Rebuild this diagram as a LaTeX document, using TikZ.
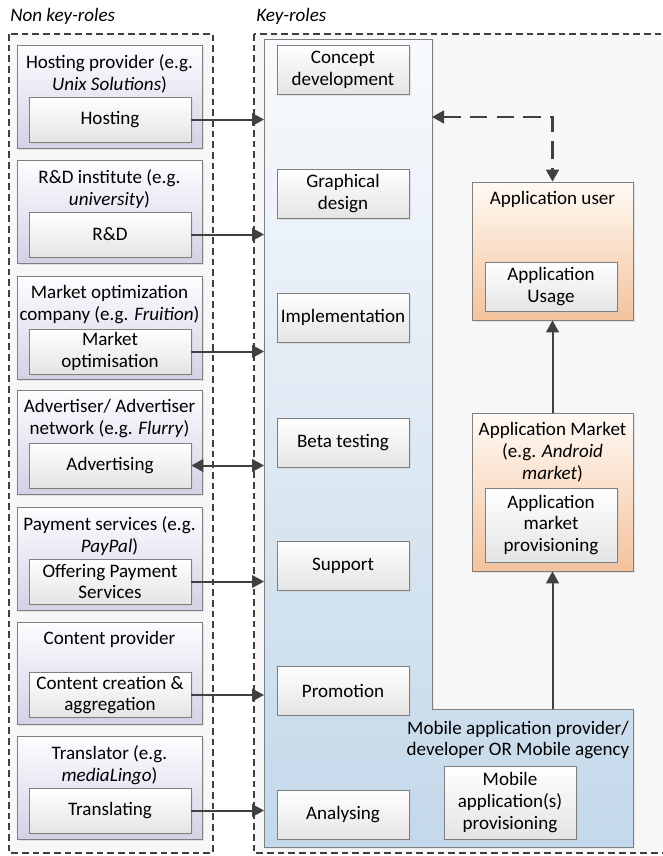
\documentclass[tikz,border=0pt]{standalone}
\usepackage{fontspec}
\setmainfont{Carlito}
\usetikzlibrary{arrows.meta,fit,shadows}
\definecolor{bggray}{HTML}{F7F7F7}
\definecolor{edgegray}{HTML}{7F7F7F}
\definecolor{arrowgray}{HTML}{404040}
\definecolor{purpletop}{HTML}{FDFDFF}
\definecolor{purplebot}{HTML}{D5D0E6}
\definecolor{whitebot}{HTML}{E4E4E4}
\definecolor{orangetop}{HTML}{FFFAF5}
\definecolor{orangebot}{HTML}{F4C29B}
\definecolor{bluetop}{HTML}{F8FAFD}
\definecolor{bluebot}{HTML}{C3D8EA}

\begin{document}
\begin{tikzpicture}[x=0.75pt,y=-0.75pt,
    font=\fontsize{14.3}{16.3}\selectfont,
    area/.style={draw=arrowgray,line width=0.9pt,dash pattern=on 5pt off 3pt,fill=bggray},
    outerbox/.style={draw=edgegray,line width=0.5pt,inner sep=0pt,top color=purpletop,bottom color=purplebot,
      drop shadow={shadow xshift=1.2pt,shadow yshift=-1.2pt,fill=black!20}},
    userbox/.style={outerbox,top color=orangetop,bottom color=orangebot},
    rolebox/.style={draw=edgegray,line width=0.5pt,inner sep=0pt,align=center,top color=white,bottom color=whitebot,
      drop shadow={shadow xshift=1.2pt,shadow yshift=-1.2pt,fill=black!20}},
    leftbox/.style={rolebox,minimum width=121.5pt,minimum height=33.75pt},
    keybox/.style={rolebox,minimum width=99pt,minimum height=36.75pt},
    title/.style={align=center,anchor=north,inner sep=0pt,yshift=-7.3pt},
    conn/.style={draw=arrowgray,line width=1.5pt,-{Triangle[length=9pt,width=9.5pt]}},
    dconn/.style={conn,{Triangle[length=9pt,width=9.5pt]}-{Triangle[length=9pt,width=9.5pt]},dash pattern=on 13pt off 7pt,line width=2pt}
  ]
  \useasboundingbox (0,0) rectangle (663,856) ;

  % the two dashed areas
  \draw[area] (9,34) rectangle (213,853) ;
  \draw[area] (254,34) rectangle (668,853) ;
  \node[anchor=west,inner sep=0pt] (nonkey) at (10,16) {\textit{Non key-roles}} ;
  \node[anchor=west,inner sep=0pt] (key) at (256,16) {\textit{Key-roles}} ;

  % non key-roles
  \node[outerbox,fit={(17,45)(202,148)}] (hostp) {} ;
  \node[title] (hostt) at (hostp.north) {Hosting provider (e.g.\\\textit{Unix Solutions})} ;
  \node[leftbox] (hosting) at (110,119.5) {Hosting} ;

  \node[outerbox,fit={(17,160)(202,263)}] (rdp) {} ;
  \node[title] (rdt) at (rdp.north) {R\&D institute (e.g.\\\textit{university})} ;
  \node[leftbox] (rd) at (110,234.5) {R\&D} ;

  \node[outerbox,fit={(17,276)(202,379)}] (marketp) {} ;
  \node[title] (markett) at (marketp.north) {Market optimization\\company (e.g. \textit{Fruition})} ;
  \node[leftbox] (marketopt) at (110,351.5) {Market\\optimisation} ;

  \node[outerbox,fit={(17,390)(202,494)}] (advp) {} ;
  \node[title] (advt) at (advp.north) {Advertiser/ Advertiser\\network (e.g. \textit{Flurry})} ;
  \node[leftbox] (adv) at (110,465.5) {Advertising} ;

  \node[outerbox,fit={(17,507)(202,610)}] (payp) {} ;
  \node[title] (payt) at (payp.north) {Payment services (e.g.\\\textit{PayPal})} ;
  \node[leftbox] (pay) at (110,581.5) {Offering Payment\\Services} ;

  \node[outerbox,fit={(17,622)(202,724)}] (contp) {} ;
  \node[title] (contt) at (contp.north) {Content provider} ;
  \node[leftbox] (content) at (110,695) {Content creation \&\\aggregation} ;

  \node[outerbox,fit={(17,736)(202,839)}] (transp) {} ;
  \node[title] (transt) at (transp.north) {Translator (e.g.\\\textit{mediaLingo})} ;
  \node[leftbox] (translating) at (110,810.5) {Translating} ;

  % mobile application provider
  \coordinate (provnw) at (264,39) ;
  \coordinate (provne) at (432,39) ;
  \coordinate (provin) at (432,709) ;
  \coordinate (provse) at (633,847) ;
  \draw[draw=edgegray,line width=0.6pt,top color=bluetop,bottom color=bluebot,
    drop shadow={shadow xshift=1.2pt,shadow yshift=-1.2pt,fill=black!20}]
    (provnw) -- (provne) -- (provin) -- (provin -| provse) -- (provse) -- (provse -| provnw) -- cycle ;
  \node[align=center,inner sep=0pt] (provt) at (518,740) {Mobile application provider/\\developer OR Mobile agency} ;
  \node[rolebox,minimum width=99pt,minimum height=54.75pt] (mobprov) at (510,802.5) {Mobile\\application(s)\\provisioning} ;

  \node[keybox] (concept) at (343,69.5) {Concept\\development} ;
  \node[keybox] (graphic) at (343,193.5) {Graphical\\design} ;
  \node[keybox] (impl) at (343,317.5) {Implementation} ;
  \node[keybox] (beta) at (343,442.5) {Beta testing} ;
  \node[keybox] (support) at (343,565.5) {Support} ;
  \node[keybox] (promo) at (343,690.5) {Promotion} ;
  \node[keybox] (analys) at (343,815) {Analysing} ;

  % application market and user
  \node[userbox,fit={(472,182)(633,320)}] (userp) {} ;
  \node[title] (usert) at (userp.north) {Application user} ;
  \node[keybox] (usage) at (551,286.5) {Application\\Usage} ;

  \node[userbox,fit={(472,413)(633,571)}] (appmp) {} ;
  \node[title] (appmt) at (appmp.north) {Application Market\\(e.g. \textit{Android}\\\textit{market})} ;
  \node[rolebox,minimum width=99pt,minimum height=55.5pt] (appmprov) at (551,525) {Application\\market\\provisioning} ;

  % connectors
  \draw[conn] (hosting.east) -- (hosting.east -| provnw) ;
  \draw[conn] (rd.east) -- (rd.east -| provnw) ;
  \draw[conn] (marketopt.east) -- (marketopt.east -| provnw) ;
  \draw[conn,{Triangle[length=9pt,width=9.5pt]}-{Triangle[length=9pt,width=9.5pt]}] (adv.east) -- (adv.east -| provnw) ;
  \draw[conn] (pay.east) -- (pay.east -| provnw) ;
  \draw[conn] (content.east) -- (content.east -| provnw) ;
  \draw[conn] (translating.east) -- (translating.east -| provnw) ;
  \draw[conn] (provin -| appmp.south) -- (appmp.south) ;
  \draw[conn] (appmp.north) -- (userp.south) ;
  \coordinate (provdash) at (432,117) ;
  \draw[dconn] (provdash) -| (userp.north) ;
\end{tikzpicture}
\end{document}
